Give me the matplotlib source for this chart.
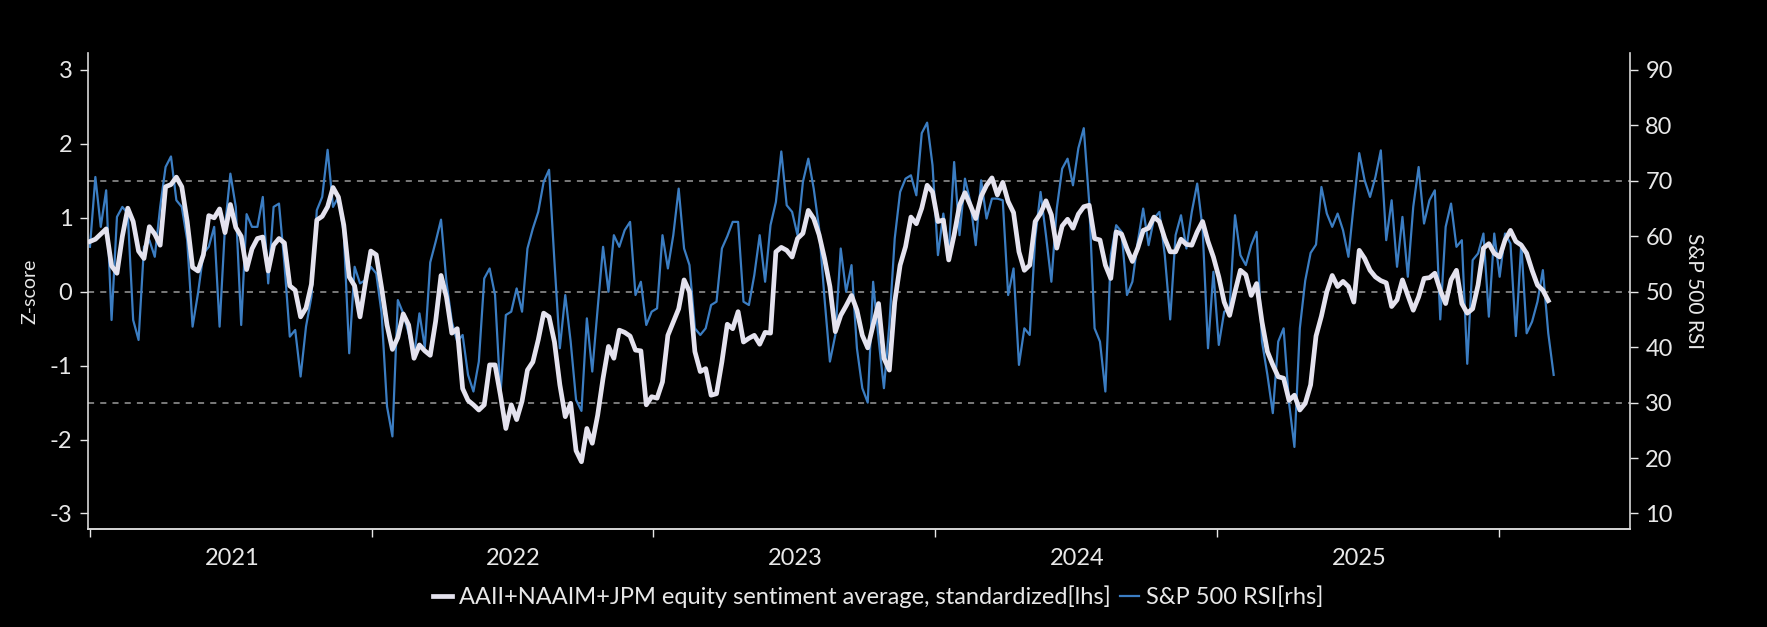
import pandas as pd
import matplotlib
matplotlib.use("Agg")
import matplotlib.pyplot as plt
import matplotlib.dates as mdates
from matplotlib.lines import Line2D

# weekly readings, Jul 2020 - Sep 2025
sentiment_z = [
    0.68, 0.71, 0.78, 0.85, 0.35, 0.25, 0.75, 1.13, 0.95, 0.55,
    0.45, 0.88, 0.78, 0.63, 1.42, 1.45, 1.55, 1.42, 0.95, 0.33,
    0.28, 0.5, 1.03, 1.0, 1.12, 0.8, 1.18, 0.87, 0.75, 0.3,
    0.58, 0.72, 0.74, 0.28, 0.63, 0.72, 0.66, 0.08, 0.02, -0.34,
    -0.22, 0.1, 0.97, 1.02, 1.15, 1.41, 1.28, 0.9, 0.2, 0.08,
    -0.34, 0.12, 0.55, 0.5, 0.05, -0.45, -0.78, -0.62, -0.3, -0.45,
    -0.9, -0.72, -0.8, -0.86, -0.4, 0.22, -0.07, -0.56, -0.5, -1.31,
    -1.47, -1.53, -1.6, -1.53, -0.99, -0.99, -1.4, -1.85, -1.53, -1.73,
    -1.48, -1.06, -0.95, -0.65, -0.29, -0.34, -0.68, -1.26, -1.69, -1.51,
    -2.15, -2.3, -1.85, -2.05, -1.67, -1.17, -0.74, -0.9, -0.52, -0.55,
    -0.6, -0.79, -0.8, -1.53, -1.42, -1.44, -1.22, -0.59, -0.41, -0.23,
    0.16, 0.0, -0.81, -1.08, -1.04, -1.4, -1.38, -0.95, -0.44, -0.5,
    -0.27, -0.68, -0.63, -0.59, -0.71, -0.55, -0.56, 0.54, 0.6, 0.56,
    0.47, 0.72, 0.79, 1.1, 0.99, 0.77, 0.45, 0.07, -0.54, -0.32,
    -0.19, -0.05, -0.25, -0.59, -0.76, -0.45, -0.16, -0.9, -1.06, -0.14,
    0.36, 0.61, 1.01, 0.92, 1.13, 1.44, 1.35, 0.95, 0.97, 0.43,
    0.77, 1.17, 1.34, 1.17, 0.99, 1.29, 1.44, 1.54, 1.31, 1.48,
    1.22, 1.07, 0.54, 0.29, 0.36, 0.95, 1.06, 1.23, 1.04, 0.59,
    0.89, 0.98, 0.86, 1.05, 1.15, 1.17, 0.72, 0.7, 0.36, 0.18,
    0.81, 0.78, 0.58, 0.41, 0.59, 0.83, 0.86, 1.01, 0.95, 0.72,
    0.54, 0.54, 0.71, 0.64, 0.63, 0.81, 0.95, 0.68, 0.47, 0.2,
    -0.14, -0.32, 0.0, 0.29, 0.23, -0.05, 0.11, -0.41, -0.81, -0.99,
    -1.15, -1.17, -1.47, -1.4, -1.6, -1.51, -1.26, -0.6, -0.33, 0.0,
    0.22, 0.07, 0.14, 0.07, -0.14, 0.56, 0.45, 0.29, 0.2, 0.15,
    0.12, -0.2, -0.11, 0.16, -0.05, -0.25, -0.07, 0.18, 0.19, 0.25,
    0.02, -0.16, 0.16, 0.29, -0.16, -0.29, -0.23, 0.09, 0.59, 0.65,
    0.52, 0.47, 0.7, 0.83, 0.68, 0.63, 0.52, 0.29, 0.09, 0.02,
    -0.12,
]

spx_rsi = [
    58.1, 70.7, 61.7, 68.3, 44.9, 63.5, 65.3, 64.1, 44.9, 41.3,
    58.1, 59.3, 56.3, 65.3, 72.5, 74.4, 66.5, 65.3, 59.3, 43.7,
    49.7, 56.9, 58.1, 61.7, 43.7, 61.7, 71.3, 65.3, 44.0, 64.0,
    61.7, 61.7, 67.1, 51.5, 65.3, 65.9, 55.1, 41.9, 43.1, 34.7,
    43.7, 49.1, 64.7, 67.1, 75.6, 65.3, 67.1, 60.5, 38.9, 54.5,
    51.5, 52.1, 54.5, 53.3, 46.1, 29.3, 23.9, 48.5, 46.1, 42.5,
    38.3, 46.1, 40.0, 55.3, 59.0, 63.0, 51.8, 44.6, 41.0, 42.2,
    35.0, 32.0, 37.4, 52.4, 54.2, 49.4, 31.4, 45.8, 46.4, 50.6,
    46.4, 57.8, 61.4, 64.4, 69.8, 72.0, 55.4, 39.8, 49.4, 41.0,
    30.5, 28.5, 45.2, 35.6, 47.0, 58.1, 50.0, 60.2, 58.1, 61.1,
    62.6, 49.4, 51.8, 44.0, 46.4, 47.0, 60.2, 54.2, 60.2, 68.6,
    57.8, 54.8, 43.4, 42.2, 43.4, 47.6, 48.2, 57.8, 60.0, 62.6,
    62.6, 48.2, 47.6, 53.0, 60.2, 51.8, 62.0, 66.2, 75.3, 65.6,
    64.4, 60.2, 69.8, 74.0, 68.6, 61.4, 48.8, 37.4, 42.2, 57.8,
    50.0, 54.8, 39.8, 32.6, 30.0, 51.8, 41.5, 32.6, 44.0, 59.6,
    68.0, 70.4, 71.0, 67.4, 78.6, 80.5, 72.8, 56.6, 64.1, 57.2,
    73.4, 60.2, 70.4, 66.2, 58.4, 70.1, 63.2, 66.8, 66.8, 66.5,
    49.4, 54.2, 36.8, 43.4, 42.2, 59.6, 68.0, 60.2, 51.8, 65.0,
    72.2, 74.0, 69.2, 75.9, 79.5, 66.2, 43.4, 41.0, 32.0, 56.6,
    62.0, 60.8, 49.4, 51.8, 59.0, 65.0, 58.4, 63.2, 64.4, 56.6,
    45.0, 60.2, 63.8, 57.8, 64.4, 69.5, 61.4, 39.8, 53.6, 40.4,
    46.4, 47.0, 63.8, 56.6, 54.8, 58.4, 60.8, 41.0, 35.0, 28.1,
    41.0, 43.4, 30.0, 22.0, 43.4, 52.0, 57.0, 58.5, 68.9, 64.1,
    61.7, 64.1, 61.1, 56.3, 65.9, 75.0, 70.1, 67.1, 70.7, 75.5,
    59.3, 66.5, 54.5, 63.5, 52.7, 65.3, 72.5, 62.3, 66.5, 68.3,
    45.0, 61.7, 65.9, 58.1, 59.3, 37.0, 55.7, 56.9, 60.5, 45.5,
    60.5, 52.7, 60.5, 58.7, 42.0, 58.7, 42.5, 44.6, 48.2, 53.9,
    42.5, 35.0,
]

rsi_dates = pd.date_range("2020-07-01", periods=len(spx_rsi), freq="7D")
sent_dates = rsi_dates[:len(sentiment_z)]
rsi_levels = [30, 50, 70]
year_labels = ["2021", "2022", "2023", "2024", "2025"]

FG = "#e8e8e8"
BLUE = "#3b7dc2"
WHITE_LINE = "#e4e2ee"
plt.rcParams["font.family"] = ["Lato", "DejaVu Sans"]

fig = plt.figure(figsize=(17.67, 6.27), dpi=100, facecolor="black")
ax = fig.add_axes([0.0496, 0.1563, 0.8729, 0.7592])
ax2 = ax.twinx()
ax.set_zorder(ax2.get_zorder() + 1)
ax.patch.set_visible(False)
ax2.set_facecolor("black")

for lv in rsi_levels:
    ax2.axhline(lv, color="#9a9a9a", lw=1.1, ls=(0, (4, 4)), zorder=1)
ax2.plot(rsi_dates, spx_rsi, color=BLUE, lw=1.6, zorder=2)
ax.plot(sent_dates, sentiment_z, color=WHITE_LINE, lw=3.4, solid_joinstyle="round", zorder=3)

ax.set_ylim(-3.21, 3.23)
ax2.set_ylim(50 - 3.21 * 40 / 3, 50 + 3.23 * 40 / 3)
ax.set_yticks([-3, -2, -1, 0, 1, 2, 3])
ax.set_yticklabels(["-3", "-2", "-1", "0", "1", "2", "3"])
ax2.set_yticks([10, 20, 30, 40, 50, 60, 70, 80, 90])

ax.set_xlim(pd.Timestamp("2020-06-28"), pd.Timestamp("2025-12-18"))
ax.xaxis.set_major_locator(mdates.MonthLocator(bymonth=7, bymonthday=1))
ax.xaxis.set_major_formatter(plt.NullFormatter())
ax.set_xticks([pd.Timestamp(f"{y}-01-01") for y in year_labels], minor=True)
ax.set_xticklabels(year_labels, minor=True)
ax.tick_params(axis="x", which="minor", length=0, pad=14, labelsize=17, colors=FG)
ax.tick_params(axis="x", which="major", length=6, width=1, colors=FG)

ax.tick_params(axis="y", length=6, width=1, colors=FG, labelsize=17, pad=5)
ax2.tick_params(axis="y", length=6, width=1, colors=FG, labelsize=17, pad=5)

for a in (ax, ax2):
    a.spines["top"].set_visible(False)
    for s in ("left", "right", "bottom"):
        a.spines[s].set_color("#d8d8d8")
        a.spines[s].set_linewidth(1.2)
ax.spines["right"].set_visible(False)
ax2.spines["left"].set_visible(False)

ax.set_ylabel("Z-score", color=FG, fontsize=14, labelpad=8)
ax2.set_ylabel("S&P 500 RSI", color=FG, fontsize=15, rotation=270, labelpad=22)

handles = [Line2D([], [], color=WHITE_LINE, lw=3.4), Line2D([], [], color=BLUE, lw=1.6)]
labels = ["AAII+NAAIM+JPM equity sentiment average, standardized[lhs]", "S&P 500 RSI[rhs]"]
leg = fig.legend(handles, labels, loc="center", bbox_to_anchor=(0.497, 0.048), ncol=2,
                 frameon=False, fontsize=17, handlelength=0.8, handletextpad=0.3,
                 columnspacing=0.4)
for t in leg.get_texts():
    t.set_color(FG)

fig.savefig("out.png", dpi=100, facecolor="black")
